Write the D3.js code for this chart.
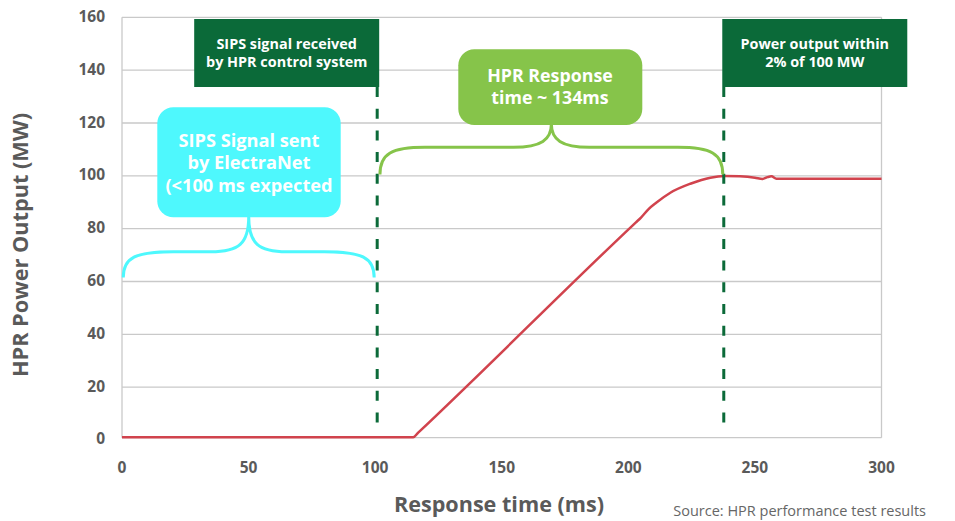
<!DOCTYPE html>
<html><head><meta charset="utf-8">
<script src="https://cdn.jsdelivr.net/npm/d3@7"></script>
<style>
html,body{margin:0;padding:0;background:#fff;}
svg{display:block;font-family:"Open Sans",sans-serif;}
</style></head><body>
<svg id="c" width="955" height="521"></svg>
<script>
// ---- data ----
const timeMs  = [0, 115, 117, 203, 205, 208, 211, 216.6, 224.5, 232.4, 238, 244, 250, 253, 255, 256.5, 258.5, 261, 300];
const powerMW = [1, 1, 2.8, 82.4, 84.2, 87.4, 89.8, 93.6, 97.0, 99.3, 99.9, 99.8, 99.3, 98.8, 99.5, 99.8, 98.9, 98.9, 98.9];
const xTicks = [0, 50, 100, 150, 200, 250, 300];
const yTicks = [0, 20, 40, 60, 80, 100, 120, 140, 160];
const markerTimes = [100.8, 237.7];
const markerLabels = [["SIPS signal received", "by HPR control system"], ["Power output within", "2% of 100 MW"]];
const sipsLabel = ["SIPS Signal sent", "by ElectraNet", "(<100 ms expected"];
const hprLabel = ["HPR Response", "time ~ 134ms"];
const braceSpans = [[0.5, 100], [101.5, 237.5]];
const xTitle = "Response time (ms)";
const yTitle = "HPR Power Output (MW)";
const source = "Source: HPR performance test results";

// ---- layout ----
const svg = d3.select("#c");
const x = d3.scaleLinear().domain([0, 300]).range([122, 881.5]);
const y = d3.scaleLinear().domain([0, 160]).range([440, 17.3]);
const bottom = 437.7;
const grey = "#5a5a5a", dark = "#0b6a39", cyan = "#4ef8fd", lime = "#86c44a", red = "#d1434d";

// gridlines
svg.append("g").selectAll("line").data(yTicks.filter(d => d > 0)).join("line")
  .attr("x1", x(0)).attr("x2", x(300)).attr("y1", d => y(d)).attr("y2", d => y(d))
  .attr("stroke", "#c9c9c9").attr("stroke-width", 1.3);
svg.append("line").attr("x1", x(0)).attr("x2", x(300)).attr("y1", bottom).attr("y2", bottom)
  .attr("stroke", "#c9c9c9").attr("stroke-width", 1.3);
svg.append("line").attr("x1", x(0)).attr("x2", x(0)).attr("y1", y(160)).attr("y2", bottom)
  .attr("stroke", "#c9c9c9").attr("stroke-width", 1.3);
svg.append("line").attr("x1", x(300)).attr("x2", x(300)).attr("y1", y(160)).attr("y2", bottom)
  .attr("stroke", "#c9c9c9").attr("stroke-width", 1.3);

// tick labels
svg.append("g").selectAll("text").data(yTicks).join("text")
  .attr("x", 105).attr("y", d => d === 0 ? 440 : y(d) + 0.5).attr("text-anchor", "end")
  .attr("dominant-baseline", "middle").attr("font-size", 15.5).attr("font-weight", 700)
  .attr("fill", grey).text(d => d);
svg.append("g").selectAll("text").data(xTicks).join("text")
  .attr("x", d => x(d)).attr("y", 468.5).attr("text-anchor", "middle")
  .attr("dominant-baseline", "middle").attr("font-size", 15.5).attr("font-weight", 700)
  .attr("fill", grey).text(d => d);

// axis titles
svg.append("text").attr("transform", "translate(22,245) rotate(-90)")
  .attr("text-anchor", "middle").attr("dominant-baseline", "middle")
  .attr("font-size", 21.7).attr("font-weight", 700).attr("fill", grey).text(yTitle);
svg.append("text").attr("x", 499).attr("y", 506).attr("text-anchor", "middle")
  .attr("dominant-baseline", "middle").attr("font-size", 21.6).attr("font-weight", 700)
  .attr("fill", grey).text(xTitle);
svg.append("text").attr("x", 926).attr("y", 512).attr("text-anchor", "end")
  .attr("dominant-baseline", "middle").attr("font-size", 14.5).attr("fill", "#666").text(source);

// red power line
const line = d3.line().x((d, i) => x(timeMs[i])).y(d => y(d)).curve(d3.curveMonotoneX);
svg.append("path").attr("d", line(powerMW)).attr("fill", "none")
  .attr("stroke", red).attr("stroke-width", 2.5);

// dashed markers
svg.append("g").selectAll("line").data(markerTimes).join("line")
  .attr("x1", d => x(d)).attr("x2", d => x(d)).attr("y1", 87).attr("y2", 423)
  .attr("stroke", dark).attr("stroke-width", 3).attr("stroke-dasharray", "10,11.7");

// marker boxes
const mb = svg.append("g").selectAll("g").data(markerTimes).join("g");
mb.append("rect").attr("x", (d, i) => i === 0 ? x(d) - 183 : x(d) - 1.5).attr("y", 19)
  .attr("width", 185).attr("height", 68).attr("fill", dark);
mb.each(function(d, i) {
  const cx = i === 0 ? x(d) - 90.5 : x(d) + 91;
  d3.select(this).selectAll("text").data(markerLabels[i]).join("text")
    .attr("x", cx).attr("y", (t, j) => 45 + j * 18.5).attr("text-anchor", "middle")
    .attr("dominant-baseline", "middle").attr("font-size", 14.4).attr("font-weight", 700)
    .attr("fill", "#fff").text(t => t);
});

// braces
function brace(x0, x1, yEnd, yFlat, yTip, r) {
  const xm = (x0 + x1) / 2;
  return `M${x0},${yEnd} C${x0},${yFlat + 6} ${x0 + 12},${yFlat} ${x0 + r},${yFlat}`
    + ` L${xm - 38},${yFlat} C${xm - 10},${yFlat} ${xm},${yFlat - 8} ${xm},${yTip}`
    + ` C${xm},${yFlat - 8} ${xm + 10},${yFlat} ${xm + 38},${yFlat}`
    + ` L${x1 - r},${yFlat} C${x1 - 12},${yFlat} ${x1},${yFlat + 6} ${x1},${yEnd}`;
}
svg.append("path").attr("d", brace(x(braceSpans[0][0]), x(braceSpans[0][1]) - 1, 277.5, 251.7, 216.7, 50))
  .attr("fill", "none").attr("stroke", cyan).attr("stroke-width", 3);
svg.append("path").attr("d", brace(x(braceSpans[1][0]) + 1, x(braceSpans[1][1]) - 0.5, 174.5, 147.3, 124, 45))
  .attr("fill", "none").attr("stroke", lime).attr("stroke-width", 3);

// callout boxes
svg.append("rect").attr("x", 157.3).attr("y", 107.3).attr("width", 183.4).attr("height", 110)
  .attr("rx", 16).attr("fill", cyan);
svg.append("g").selectAll("text").data(sipsLabel).join("text")
  .attr("x", 249).attr("y", (t, j) => 141.7 + j * 22.5).attr("text-anchor", "middle")
  .attr("dominant-baseline", "middle").attr("font-size", 18.2).attr("font-weight", 700)
  .attr("fill", "#fff").text(t => t);
svg.append("rect").attr("x", 458.3).attr("y", 49.3).attr("width", 184).attr("height", 75.7)
  .attr("rx", 16).attr("fill", lime);
svg.append("g").selectAll("text").data(hprLabel).join("text")
  .attr("x", 550).attr("y", (t, j) => 77.3 + j * 22).attr("text-anchor", "middle")
  .attr("dominant-baseline", "middle").attr("font-size", 17.8).attr("font-weight", 700)
  .attr("fill", "#fff").text(t => t);
</script></body></html>
